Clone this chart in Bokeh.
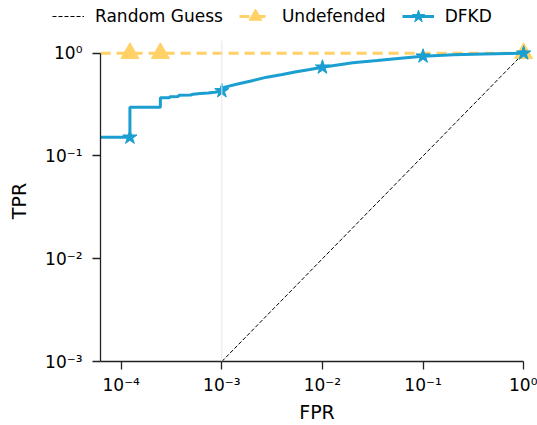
from bokeh.plotting import figure
from bokeh.layouts import column, row
from bokeh.models import (Range1d, FixedTicker, CustomJSTickFormatter, Span, Legend, LegendItem)
from bokeh.embed import file_html
from bokeh.resources import INLINE

# ---- data ----
x_ticks = [1e-4, 1e-3, 1e-2, 1e-1, 1.0]
y_ticks = [1e-3, 1e-2, 1e-1, 1.0]

guess_fpr = [1e-3, 1.0]
guess_tpr = [1e-3, 1.0]

undef_fpr = [1e-5, 1.22e-4, 2.45e-4, 1.0]
undef_tpr = [1.0, 1.0, 1.0, 1.0]
undef_marker_fpr = [1.22e-4, 2.45e-4, 1.0]
undef_marker_tpr = [1.0, 1.0, 1.0]

dfkd_fpr = [1e-5, 1.22e-4, 1.22e-4, 2.45e-4, 2.45e-4, 3.0e-4, 3.05e-4, 3.7e-4, 3.75e-4,
            4.9e-4, 5.2e-4, 6.1e-4, 7.3e-4, 8.5e-4, 1.0e-3, 1.05e-3, 1.4e-3, 2.0e-3,
            2.8e-3, 4.0e-3, 5.5e-3, 7.5e-3, 1.0e-2, 2.0e-2, 3.5e-2, 6.0e-2, 1.0e-1,
            2.0e-1, 4.0e-1, 7.0e-1, 1.0]
dfkd_tpr = [0.152, 0.152, 0.298, 0.298, 0.368, 0.368, 0.378, 0.380, 0.390,
            0.392, 0.400, 0.405, 0.410, 0.418, 0.430, 0.465, 0.500, 0.540,
            0.585, 0.620, 0.660, 0.695, 0.730, 0.810, 0.850, 0.895, 0.935,
            0.965, 0.985, 0.995, 1.0]
dfkd_marker_fpr = [1.22e-4, 1e-3, 1e-2, 1e-1, 1.0]
dfkd_marker_tpr = [0.152, 0.430, 0.730, 0.935, 1.0]

labels = ["Random Guess", "Undefended", "DFKD"]

YELLOW = "#FFD166"
BLUE = "#1A9FD0"
FONT = "DejaVu Sans"


def draw_series(fig):
    r_guess = fig.line(guess_fpr, guess_tpr, line_color="black", line_width=1,
                       line_dash="4 2")
    r_ul = fig.line(undef_fpr, undef_tpr, line_color=YELLOW, line_width=3,
                    line_dash="10 6")
    r_um = fig.scatter(undef_marker_fpr, undef_marker_tpr, marker="triangle", size=18,
                       fill_color=YELLOW, line_color=YELLOW)
    r_dl = fig.line(dfkd_fpr, dfkd_tpr, line_color=BLUE, line_width=3)
    r_dm = fig.scatter(dfkd_marker_fpr, dfkd_marker_tpr, marker="star", size=15,
                       fill_color=BLUE, line_color=BLUE)
    return [[r_guess], [r_ul, r_um], [r_dl, r_dm]]


# ---- main plot ----
p = figure(width=537, height=393, x_axis_type="log", y_axis_type="log",
           x_range=Range1d(10 ** -4.206, 10 ** 0.098),
           y_range=Range1d(1e-3, 10 ** 0.124),
           output_backend="svg", toolbar_location=None,
           min_border_left=100, min_border_right=4, min_border_top=8,
           min_border_bottom=64)
p.outline_line_color = None
p.xgrid.visible = False
p.ygrid.visible = False
p.background_fill_color = "white"
p.border_fill_color = "white"

p.add_layout(Span(location=1e-3, dimension="height", line_color="#e6e6e6", line_width=1))
draw_series(p)

fmt_code = """
const e = Math.round(Math.log10(tick));
const sup = {'-':'\\u207b','0':'\\u2070','1':'\\u00b9','2':'\\u00b2','3':'\\u00b3','4':'\\u2074',
             '5':'\\u2075','6':'\\u2076','7':'\\u2077','8':'\\u2078','9':'\\u2079'};
let s = '10';
const t = String(e);
for (let i = 0; i < t.length; i++) { s += sup[t[i]]; }
return s;
"""

for ax, ticks in ((p.xaxis[0], x_ticks), (p.yaxis[0], y_ticks)):
    ax.ticker = FixedTicker(ticks=ticks, minor_ticks=[])
    ax.formatter = CustomJSTickFormatter(code=fmt_code)
    ax.axis_line_color = "#222222"
    ax.axis_line_width = 1.3
    ax.major_tick_line_color = "#222222"
    ax.major_tick_line_width = 1.3
    ax.major_tick_out = 8
    ax.major_tick_in = 0
    ax.minor_tick_out = 0
    ax.minor_tick_in = 0
    ax.major_label_text_font = FONT
    ax.major_label_text_font_size = "17px"
    ax.major_label_text_color = "black"
    ax.axis_label_text_font = FONT
    ax.axis_label_text_font_size = "19px"
    ax.axis_label_text_font_style = "normal"
    ax.axis_label_text_color = "black"

p.xaxis.axis_label = "FPR"
p.yaxis.axis_label = "TPR"
p.xaxis.bounds = (10 ** -4.206, 1.0)
p.yaxis.bounds = (1e-3, 1.0)
p.xaxis.major_label_standoff = 5
p.yaxis.major_label_standoff = 10
p.xaxis.axis_label_standoff = 3
p.yaxis.axis_label_standoff = 12

# ---- legend strip above the plot (same series, ranges keep them out of view) ----
lg = figure(width=537, height=32, x_range=Range1d(0, 1), y_range=Range1d(10, 20),
            output_backend="svg", toolbar_location=None,
            x_axis_location=None, y_axis_location=None,
            min_border_left=0, min_border_right=0, min_border_top=0, min_border_bottom=0)
lg.outline_line_color = None
lg.xgrid.visible = False
lg.ygrid.visible = False
lg.background_fill_color = "white"
lg.border_fill_color = "white"
proxies = draw_series(lg)

legend = Legend(items=[LegendItem(label=lab, renderers=rs) for lab, rs in zip(labels, proxies)],
                orientation="horizontal", location=(52, 0))
legend.border_line_color = None
legend.background_fill_alpha = 0
legend.padding = 0
legend.margin = 0
legend.spacing = 16
legend.glyph_width = 32
legend.glyph_height = 32
legend.label_standoff = 11
legend.label_text_font = FONT
legend.label_text_font_size = "17px"
legend.label_text_color = "black"
lg.add_layout(legend)

layout = column(row(lg), row(p), spacing=0)
open("out.html", "w", encoding="utf-8").write(file_html(layout, INLINE))
